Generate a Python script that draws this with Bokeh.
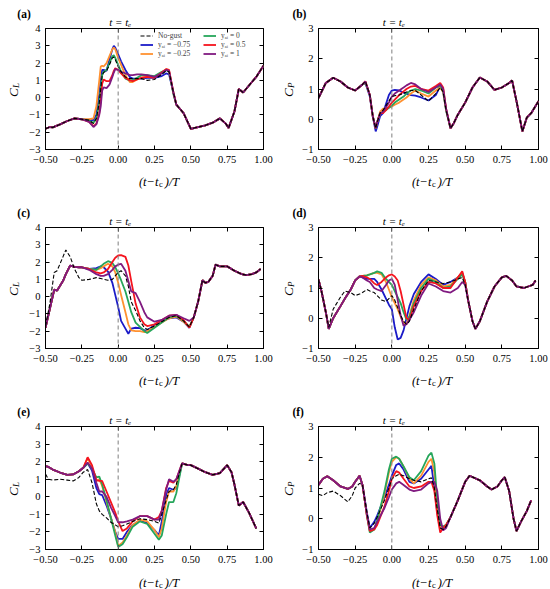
from bokeh.plotting import figure
from bokeh.models import (Range1d, FixedTicker, LinearAxis, Label, Span, Legend,
                          LegendItem, CustomJSTickFormatter)
from bokeh.layouts import column, row
from bokeh.embed import file_html
from bokeh.resources import INLINE
import math

# ---------------- data ----------------
SERIES = ["No-gust", "yₐᵢ = −0.75", "yₐᵢ = −0.25", "yₐᵢ = 0", "yₐᵢ = 0.5", "yₐᵢ = 1"]
COLORS = ["black", "#1b1bc8", "#ff9130", "#26a65b", "#f5141e", "#801a80"]

X_TICKS = [-0.5, -0.25, 0.0, 0.25, 0.5, 0.75, 1.0]
X_TICK_LABELS = ["−0.50", "−0.25", "0.00", "0.25", "0.50", "0.75", "1.00"]
CL_TICKS = [-3, -2, -1, 0, 1, 2, 3, 4]
CL_TICK_LABELS = ["−3", "−2", "−1", "0", "1", "2", "3", "4"]
CP_TICKS = [-1, 0, 1, 2, 3]
CP_TICK_LABELS = ["−1", "0", "1", "2", "3"]
PANEL_TAGS = ["(a)", "(b)", "(c)", "(d)", "(e)", "(f)"]

# panel (a)  C_L
A_X = [-0.5, -0.47, -0.45, -0.4, -0.35, -0.3, -0.25,
       -0.2, -0.17, -0.15, -0.13, -0.12, -0.11, -0.1, -0.08, -0.06, -0.04, -0.03, -0.02, 0.0,
       0.02, 0.05, 0.08, 0.1, 0.13, 0.16, 0.2, 0.25, 0.3, 0.33, 0.35, 0.38,
       0.4, 0.42, 0.45, 0.5, 0.55, 0.6, 0.65, 0.7, 0.74, 0.76, 0.8, 0.83, 0.86, 0.9, 0.95, 1.0]
A_HEAD = [-1.8, -1.7, -1.72, -1.55, -1.35, -1.2, -1.25]
A_TAIL = [-0.4, -0.6, -0.9, -1.8, -1.7, -1.6, -1.45, -1.2, -1.5, -1.75, -0.8, 0.5, 0.3, 0.7, 1.2, 1.85]
A_NG = A_HEAD + [-1.3, -1.5, -1.2, -0.3, 0.5, 1.3, 1.45, 1.55, 1.9, 2.3, 2.35, 2.2, 1.8, 1.5, 1.2,
                 1.1, 1.1, 1.1, 1.1, 1.0, 1.05, 1.35, 1.55, 1.5, 0.3] + A_TAIL
A_B = A_HEAD + [-1.3, -1.3, -1.0, 0.2, 1.0, 1.6, 1.6, 1.55, 2.2, 2.8, 3.0, 2.9, 2.5, 2.1, 1.6,
                1.2, 1.1, 1.1, 1.1, 1.15, 1.15, 1.25, 1.4, 1.35, 0.3] + A_TAIL
A_O = A_HEAD + [-1.25, -1.2, -0.5, 1.0, 1.8, 1.85, 1.8, 2.0, 2.4, 2.8, 2.9, 2.8, 2.3, 1.9, 1.3,
                0.9, 0.9, 1.05, 1.15, 1.2, 1.2, 1.45, 1.65, 1.55, 0.3] + A_TAIL
A_G = A_HEAD + [-1.35, -1.45, -1.2, -0.3, 0.5, 1.3, 1.5, 1.6, 2.0, 2.4, 2.45, 2.3, 1.9, 1.5, 1.1,
                1.0, 1.0, 1.15, 1.3, 1.3, 1.25, 1.5, 1.6, 1.5, 0.2] + A_TAIL
A_R = A_HEAD + [-1.4, -1.65, -1.5, -0.9, -0.2, 0.8, 1.05, 0.95, 0.95, 1.3, 1.55, 1.7, 1.6, 1.4, 1.15,
                1.0, 0.95, 1.05, 1.15, 1.2, 1.15, 1.45, 1.65, 1.6, 0.3] + A_TAIL
A_P = A_HEAD + [-1.4, -1.7, -1.55, -1.0, -0.5, 0.4, 0.6, 0.55, 0.75, 1.2, 1.45, 1.65, 1.6, 1.5, 1.4,
                1.3, 1.3, 1.35, 1.35, 1.3, 1.2, 1.4, 1.6, 1.55, 0.3] + A_TAIL

# panel (b)  C_P
B_X = [-0.5, -0.45, -0.4, -0.35, -0.3, -0.25, -0.2,
       -0.18, -0.15, -0.13, -0.11, -0.1, -0.08, -0.06, -0.04, -0.02, 0.0, 0.02, 0.05, 0.08, 0.1,
       0.13, 0.16, 0.2, 0.25, 0.3, 0.33, 0.35, 0.37,
       0.4, 0.42, 0.45, 0.5, 0.55, 0.6, 0.65, 0.7, 0.75, 0.8, 0.82, 0.85, 0.89, 0.92, 0.95, 1.0]
B_HEAD = [0.7, 1.2, 1.37, 1.25, 1.05, 0.95, 1.15]
B_TAIL = [-0.3, -0.15, 0.15, 0.55, 1.05, 1.38, 1.25, 0.97, 1.05, 1.2, 1.28, 0.6, -0.4, 0.05, 0.2, 0.6]
B_NG = B_HEAD + [1.25, 0.8, 0.1, -0.3, -0.1, 0.2, 0.3, 0.45, 0.6, 0.75, 0.78, 0.8, 0.86, 0.9, 0.95,
                 0.95, 0.8, 0.6, 0.85, 1.05, 0.9, 0.3] + B_TAIL
B_B = B_HEAD + [1.2, 0.75, 0.1, -0.4, -0.25, 0.1, 0.2, 0.5, 0.8, 0.95, 0.97, 0.95, 0.88, 0.85, 0.8,
                0.78, 0.72, 0.62, 0.8, 1.1, 0.9, 0.3] + B_TAIL
B_O = B_HEAD + [1.25, 0.8, 0.1, -0.3, -0.1, 0.25, 0.35, 0.35, 0.38, 0.42, 0.48, 0.55, 0.65, 0.72, 0.85,
                0.95, 0.85, 0.75, 0.95, 1.05, 0.9, 0.3] + B_TAIL
B_G = B_HEAD + [1.2, 0.8, 0.1, -0.3, -0.1, 0.2, 0.25, 0.3, 0.38, 0.45, 0.55, 0.65, 0.75, 0.85, 0.95,
                1.0, 0.95, 0.85, 1.05, 1.1, 0.95, 0.3] + B_TAIL
B_R = B_HEAD + [1.25, 0.8, 0.1, -0.3, -0.1, 0.2, 0.2, 0.3, 0.42, 0.55, 0.65, 0.8, 0.92, 1.0, 1.08,
                1.1, 1.0, 0.95, 1.1, 1.2, 1.05, 0.35] + B_TAIL
B_P = B_HEAD + [1.25, 0.8, 0.1, -0.3, -0.1, 0.2, 0.25, 0.4, 0.55, 0.75, 0.85, 0.95, 1.05, 1.12, 1.2,
                1.15, 1.0, 0.9, 1.05, 1.15, 1.0, 0.35] + B_TAIL

# panel (c)  C_L
C_X = [-0.5, -0.47, -0.44, -0.42, -0.38, -0.36, -0.33, -0.3, -0.27, -0.25,
       -0.2, -0.15, -0.12, -0.1, -0.07, -0.04, -0.02, 0.0, 0.02, 0.05, 0.07, 0.09, 0.12, 0.15,
       0.18, 0.2, 0.25, 0.3, 0.35, 0.4, 0.45, 0.49,
       0.52, 0.55, 0.58, 0.6, 0.62, 0.65, 0.67, 0.7, 0.75, 0.8, 0.85, 0.88, 0.92, 0.95, 0.98]
C_HEAD = [-1.8, -0.7, 0.4, 0.35, 0.9, 1.3, 1.8, 1.72, 1.7, 1.7]
C_TAIL = [-1.2, -0.3, 0.95, 0.8, 0.85, 1.2, 1.85, 1.75, 1.75, 1.5, 1.3, 1.25, 1.3, 1.4, 1.6]
C_NG = [-1.7, -0.4, 1.4, 1.5, 2.3, 2.7, 2.3, 1.6, 1.1, 0.95] + \
       [1.0, 1.1, 1.05, 1.0, 0.95, 1.0, 1.2, 1.4, 1.5, 1.2, 0.6, -0.3, -0.8, -1.4, -1.8,
        -1.9, -1.7, -1.45, -1.2, -1.1, -1.4, -1.75] + C_TAIL
C_B = C_HEAD + [1.6, 1.65, 1.75, 1.7, 1.45, 0.8, 0.1, -0.6, -1.4, -1.85, -2.15, -1.85, -1.8, -1.82, -1.95,
                -1.95, -1.65, -1.45, -1.25, -1.2, -1.45, -1.8] + C_TAIL
C_O = C_HEAD + [1.6, 1.55, 1.65, 1.75, 1.9, 1.75, 1.4, 0.8, 0.1, -0.9, -1.6, -1.95, -2.0, -2.0, -2.05,
                -2.0, -1.75, -1.5, -1.25, -1.15, -1.45, -1.75] + C_TAIL
C_G = C_HEAD + [1.6, 1.55, 1.75, 1.9, 2.05, 1.95, 1.7, 1.35, 0.95, 0.3, -0.3, -0.9, -1.5, -1.75, -2.0,
                -2.1, -1.8, -1.5, -1.2, -1.1, -1.4, -1.75] + C_TAIL
C_R = C_HEAD + [1.6, 1.4, 1.35, 1.4, 1.6, 2.0, 2.25, 2.38, 2.4, 2.3, 1.8, 0.9, -0.4, -1.2, -1.6,
                -1.7, -1.6, -1.35, -1.1, -1.05, -1.35, -1.8] + C_TAIL
C_P = C_HEAD + [1.55, 1.3, 1.2, 1.2, 1.3, 1.55, 1.75, 1.85, 1.9, 1.5, 0.9, 0.3, 0.2, -0.3, -0.9,
                -1.2, -1.45, -1.35, -1.1, -1.05, -1.25, -1.4] + C_TAIL

# panel (d)  C_P
D_X = [-0.5, -0.48, -0.45, -0.43, -0.4, -0.35, -0.32, -0.28, -0.25, -0.22,
       -0.2, -0.17, -0.15, -0.12, -0.1, -0.07, -0.04, -0.02, 0.0, 0.02, 0.04, 0.06, 0.08, 0.1,
       0.12, 0.15, 0.2, 0.25, 0.3, 0.35, 0.4, 0.45, 0.48, 0.5,
       0.52, 0.55, 0.57, 0.6, 0.65, 0.7, 0.75, 0.78, 0.82, 0.85, 0.9, 0.93, 0.96, 0.98]
D_HEAD = [1.28, 0.9, 0.2, -0.35, 0.0, 0.4, 0.65, 0.95, 1.25, 1.38]
D_TAIL = [0.6, -0.1, -0.35, -0.1, 0.55, 1.05, 1.35, 1.4, 1.25, 1.05, 1.0, 1.05, 1.1, 1.25]
D_NG = [1.28, 0.9, 0.2, -0.3, 0.3, 0.7, 0.9, 0.85, 0.75, 0.8] + \
       [0.85, 0.95, 0.9, 0.85, 0.75, 0.6, 0.55, 0.65, 0.75, 0.6, 0.35, 0.1, -0.1, -0.2, -0.1,
        0.3, 0.9, 1.25, 1.2, 1.15, 1.2, 1.3, 1.35, 1.1] + D_TAIL
D_B = D_HEAD + [1.35, 1.3, 1.3, 1.3, 1.2, 0.95, 0.65, 0.45, 0.3, -0.3, -0.7, -0.65, -0.4, 0.0, 0.4,
                0.8, 1.2, 1.45, 1.3, 1.1, 1.2, 1.35, 1.5, 1.2] + D_TAIL
D_O = D_HEAD + [1.4, 1.42, 1.45, 1.5, 1.5, 1.45, 1.2, 0.95, 0.7, 0.5, 0.3, 0.05, -0.15, -0.2, 0.1,
                0.6, 1.1, 1.35, 1.25, 1.05, 1.1, 1.35, 1.5, 1.2] + D_TAIL
D_G = D_HEAD + [1.4, 1.42, 1.45, 1.5, 1.55, 1.5, 1.3, 1.2, 1.1, 0.9, 0.7, 0.5, 0.2, -0.05, 0.05,
                0.5, 1.0, 1.3, 1.2, 1.0, 1.05, 1.3, 1.45, 1.2] + D_TAIL
D_R = D_HEAD + [1.4, 1.35, 1.3, 1.15, 1.1, 1.2, 1.35, 1.42, 1.45, 1.38, 1.25, 0.9, 0.45, 0.0, -0.05,
                0.4, 0.9, 1.2, 1.15, 1.0, 1.0, 1.35, 1.55, 1.2] + D_TAIL
D_P = D_HEAD + [1.35, 1.25, 1.2, 1.0, 0.95, 0.9, 1.1, 1.25, 1.3, 1.1, 0.6, 0.1, -0.25, -0.2, -0.05,
                0.2, 0.75, 1.15, 1.05, 0.9, 0.85, 1.0, 1.2, 1.1] + D_TAIL

# panel (e)  C_L
E_X = [-0.5, -0.48, -0.45, -0.4, -0.35, -0.31, -0.27, -0.24,
       -0.21, -0.18, -0.15, -0.13, -0.11, -0.08, -0.05, -0.02, 0.0, 0.03, 0.06, 0.1, 0.15,
       0.2, 0.25, 0.28, 0.3, 0.33, 0.35, 0.38, 0.4,
       0.44, 0.48, 0.5, 0.55, 0.6, 0.65, 0.7, 0.75, 0.78, 0.8, 0.83, 0.86, 0.9, 0.95]
E_HEAD = [1.75, 1.7, 1.55, 1.38, 1.25, 1.27, 1.45, 1.65]
E_TAIL = [1.9, 1.8, 1.8, 1.6, 1.4, 1.25, 1.35, 1.8, 1.4, 0.7, -0.5, -0.3, -0.9, -1.8]
E_NG = [1.3, 1.0, 0.95, 1.0, 0.95, 0.9, 1.1, 1.4] + \
       [1.55, 0.8, -0.4, -0.8, -1.0, -1.2, -1.45, -1.6, -1.7, -1.65, -1.55, -1.4, -1.25,
        -1.3, -1.4, -1.5, -1.0, -0.2, 0.3, 0.4, 0.7] + E_TAIL
E_B = E_HEAD + [1.9, 1.5, 0.5, 0.15, 0.1, -0.5, -1.2, -2.0, -2.4, -2.4, -2.0, -1.6, -1.35,
                -1.5, -1.9, -2.2, -1.4, 0.1, 0.5, 0.4, 0.5] + E_TAIL
E_O = E_HEAD + [2.2, 1.7, 0.9, 1.0, 0.6, -0.3, -1.2, -2.0, -2.8, -2.6, -2.2, -1.6, -1.3,
                -1.4, -1.9, -2.3, -1.8, -0.3, 0.3, 0.3, 0.6] + E_TAIL
E_G = E_HEAD + [1.9, 1.6, 1.1, 1.15, 0.7, -0.2, -1.2, -2.2, -2.85, -2.7, -2.3, -1.7, -1.4,
                -1.55, -2.1, -2.45, -2.2, -1.0, -0.3, -0.3, 0.2] + E_TAIL
E_R = E_HEAD + [2.25, 1.8, 0.95, 0.9, 0.9, 0.3, -0.3, -0.9, -1.4, -1.95, -1.8, -1.4, -1.1,
                -1.1, -1.3, -1.15, -0.8, 0.5, 0.9, 0.8, 1.0] + E_TAIL
E_P = E_HEAD + [1.95, 1.6, 0.8, 0.3, 0.3, 0.0, -0.6, -1.1, -1.45, -1.45, -1.4, -1.3, -1.1,
                -1.1, -1.3, -1.3, -0.8, 0.4, 1.0, 0.85, 1.0] + E_TAIL

# panel (f)  C_P
F_X = [-0.5, -0.47, -0.44, -0.4, -0.35, -0.3, -0.27, -0.25, -0.22,
       -0.2, -0.17, -0.15, -0.12, -0.1, -0.05, -0.02, 0.0, 0.03, 0.05, 0.08, 0.12, 0.15,
       0.2, 0.25, 0.27, 0.29, 0.31, 0.33, 0.35, 0.37,
       0.4, 0.45, 0.5, 0.53, 0.6, 0.65, 0.68, 0.72, 0.75, 0.77, 0.8, 0.83, 0.85, 0.88, 0.92, 0.95]
F_HEAD = [1.1, 1.3, 1.38, 1.25, 1.05, 0.97, 1.05, 1.2, 1.4]
F_TAIL = [0.05, 0.6, 1.2, 1.4, 1.25, 1.05, 0.95, 1.05, 1.25, 1.35, 0.9, 0.0, -0.4, -0.1, 0.25, 0.6]
F_NG = [0.8, 0.75, 0.85, 0.9, 0.75, 0.55, 0.75, 1.0, 1.15] + \
       [1.1, 0.2, -0.3, -0.15, 0.05, 0.6, 1.0, 1.3, 1.4, 1.45, 1.4, 1.3, 1.25, 1.2, 1.3,
        1.33, 1.0, 0.3, -0.3, -0.35, -0.25] + F_TAIL
F_B = F_HEAD + [1.1, 0.2, -0.3, -0.1, 0.1, 0.7, 1.1, 1.4, 1.75, 1.8, 1.6, 1.2, 1.15, 1.3, 1.6,
                1.72, 1.0, 0.2, -0.3, -0.35, -0.25] + F_TAIL
F_O = F_HEAD + [1.1, 0.1, -0.4, -0.35, -0.1, 0.8, 1.5, 1.85, 2.0, 1.95, 1.7, 1.3, 1.15, 1.4, 1.85,
                1.95, 1.5, 0.3, -0.25, -0.3, -0.2] + F_TAIL
F_G = F_HEAD + [1.1, 0.1, -0.45, -0.35, -0.05, 0.9, 1.6, 1.95, 2.02, 1.95, 1.7, 1.35, 1.25, 1.55, 2.05,
                2.15, 1.8, 0.6, -0.2, -0.25, -0.2] + F_TAIL
F_R = F_HEAD + [1.1, 0.1, -0.4, -0.35, -0.2, 0.4, 0.9, 1.3, 1.55, 1.5, 1.3, 1.05, 1.0, 1.05, 1.2,
                1.2, 0.9, 0.1, -0.45, -0.3, -0.2] + F_TAIL
F_P = F_HEAD + [1.1, 0.15, -0.35, -0.3, -0.1, 0.35, 0.7, 0.95, 1.15, 1.2, 1.1, 0.95, 0.9, 0.95, 1.15,
                1.2, 1.2, 0.9, 0.0, -0.38, -0.3] + F_TAIL

PANELS = [
    (A_X, [A_NG, A_B, A_O, A_G, A_R, A_P], "L"),
    (B_X, [B_NG, B_B, B_O, B_G, B_R, B_P], "P"),
    (C_X, [C_NG, C_B, C_O, C_G, C_R, C_P], "L"),
    (D_X, [D_NG, D_B, D_O, D_G, D_R, D_P], "P"),
    (E_X, [E_NG, E_B, E_O, E_G, E_R, E_P], "L"),
    (F_X, [F_NG, F_B, F_O, F_G, F_R, F_P], "P"),
]
for xs, yss, _ in PANELS:
    for ys in yss:
        assert len(xs) == len(ys), (len(xs), len(ys))

# ---------------- drawing ----------------
FONT = "Liberation Serif"
XLO, XHI = -0.5, 1.0
COL_W = [273, 277]          # canvas widths (sum 550)
ROW_H = [199, 199, 191]     # canvas heights (sum 589)
EST_FW = [217, 219]         # approximate frame sizes, only used to place margin texts
EST_FH = [119, 119, 118]


def fmt(tick_values, tick_texts):
    return CustomJSTickFormatter(args=dict(tv=tick_values, tt=tick_texts), code="""
        for (let i = 0; i < tv.length; i++) {
            if (Math.abs(tv[i] - tick) < 1e-9) { return tt[i]; }
        }
        return '';
    """)


def make_panel(idx):
    xs, yss, sub = PANELS[idx]
    col, r = idx % 2, idx // 2
    if sub == "L":
        ylo, yhi, yt, ytl = -3, 4, CL_TICKS, CL_TICK_LABELS
    else:
        ylo, yhi, yt, ytl = -1, 3, CP_TICKS, CP_TICK_LABELS
    fw, fh = EST_FW[col], EST_FH[r]
    p = figure(width=COL_W[col], height=ROW_H[r],
               min_border_left=45, min_border_right=10 if col == 0 else 12,
               min_border_top=28, min_border_bottom=50 if r < 2 else 40,
               x_range=Range1d(XLO, XHI), y_range=Range1d(ylo, yhi),
               output_backend="svg", toolbar_location=None, tools="")
    p.grid.visible = False
    p.outline_line_color = "black"
    p.outline_line_width = 1
    p.background_fill_color = "white"
    p.border_fill_color = "white"

    dxp = (XHI - XLO) / fw
    dyp = (yhi - ylo) / fh

    def lab(side, px, py, text, size, style="normal", align="left", angle=0.0, xdata=None, x_offset=0):
        xv = xdata if xdata is not None else XLO + px * dxp
        yv = ylo + py * dyp
        p.add_layout(Label(x=xv, y=yv, x_units="data", y_units="data", text=text, x_offset=x_offset,
                           text_font=FONT, text_font_size=f"{size}px", text_font_style=style,
                           text_align=align, text_baseline="alphabetic", angle=angle,
                           text_color="black"), side)

    xa = p.xaxis[0]
    xa.ticker = FixedTicker(ticks=X_TICKS)
    xa.formatter = fmt(X_TICKS, X_TICK_LABELS)
    ya = p.yaxis[0]
    ya.ticker = FixedTicker(ticks=yt)
    ya.formatter = fmt(yt, ytl)
    for a in (xa, ya):
        a.major_label_text_font = FONT
        a.major_label_text_font_size = "10.5px"
        a.major_label_text_color = "black"
        a.major_tick_in = 4
        a.major_tick_out = 0
        a.minor_tick_line_color = None
        a.axis_line_color = "black"
        a.major_tick_line_color = "black"
    xa.major_label_standoff = 6
    ya.major_label_standoff = 5

    for side, tk in (("above", X_TICKS), ("right", yt)):
        ax2 = LinearAxis(ticker=FixedTicker(ticks=tk), formatter=CustomJSTickFormatter(code="return ''"),
                         major_tick_in=4, major_tick_out=0, minor_tick_line_color=None,
                         axis_line_color=None, major_label_standoff=0,
                         major_label_text_font_size="1px", major_tick_line_color="black")
        p.add_layout(ax2, side)

    p.add_layout(Span(location=0, dimension="height", line_color="#8a8a8a",
                      line_dash="4 3", line_width=1.1))

    rends = [None] * 6
    for i in [1, 2, 3, 4, 5, 0]:
        if i == 0:
            rends[i] = p.line(xs, yss[i], line_color=COLORS[i], line_width=1.1, line_dash="4 2")
        else:
            rends[i] = p.line(xs, yss[i], line_color=COLORS[i], line_width=1.8)

    # texts in the margins (side panels are not clipped to the frame)
    lab("above", -28 if col == 0 else -26, fh + 14, PANEL_TAGS[idx], 11.5, style="bold")
    lab("above", 0, fh + 6, "t = tₑ", 11, style="italic", align="center", xdata=0.0, x_offset=2)
    cx = -32 if col == 0 else -30
    lab("left", cx, fh / 2 + 1, "C", 13.5, style="italic", align="right", angle=math.pi / 2)
    lab("left", cx + 2.5, fh / 2 + 1, sub, 9, style="italic", align="left", angle=math.pi / 2)
    # x label: "(t−t  )/T" with the subscript c in the gap
    xl_left = 93
    lab("below", xl_left, -32, "(t−t\u00a0\u00a0)/T", 12.5, style="italic", align="left")
    lab("right", xl_left + 20, -34, "c", 8.5, align="left")

    if idx == 0:
        items = [LegendItem(label=SERIES[i], renderers=[rends[i]]) for i in range(6)]
        for grp, lx in ((items[:3], 95), (items[3:], 158)):
            leg = Legend(items=grp, location=(lx, fh - 28), label_text_font=FONT,
                         label_text_font_size="7.5px", glyph_width=13, glyph_height=7,
                         label_height=7, label_standoff=5, spacing=0, padding=0, margin=0,
                         border_line_color=None, background_fill_alpha=0)
            p.add_layout(leg, "center")
    return p


figs = [make_panel(i) for i in range(6)]
layout = column(row(figs[0], figs[1]), row(figs[2], figs[3]), row(figs[4], figs[5]))
open("out.html", "w").write(file_html(layout, INLINE))
